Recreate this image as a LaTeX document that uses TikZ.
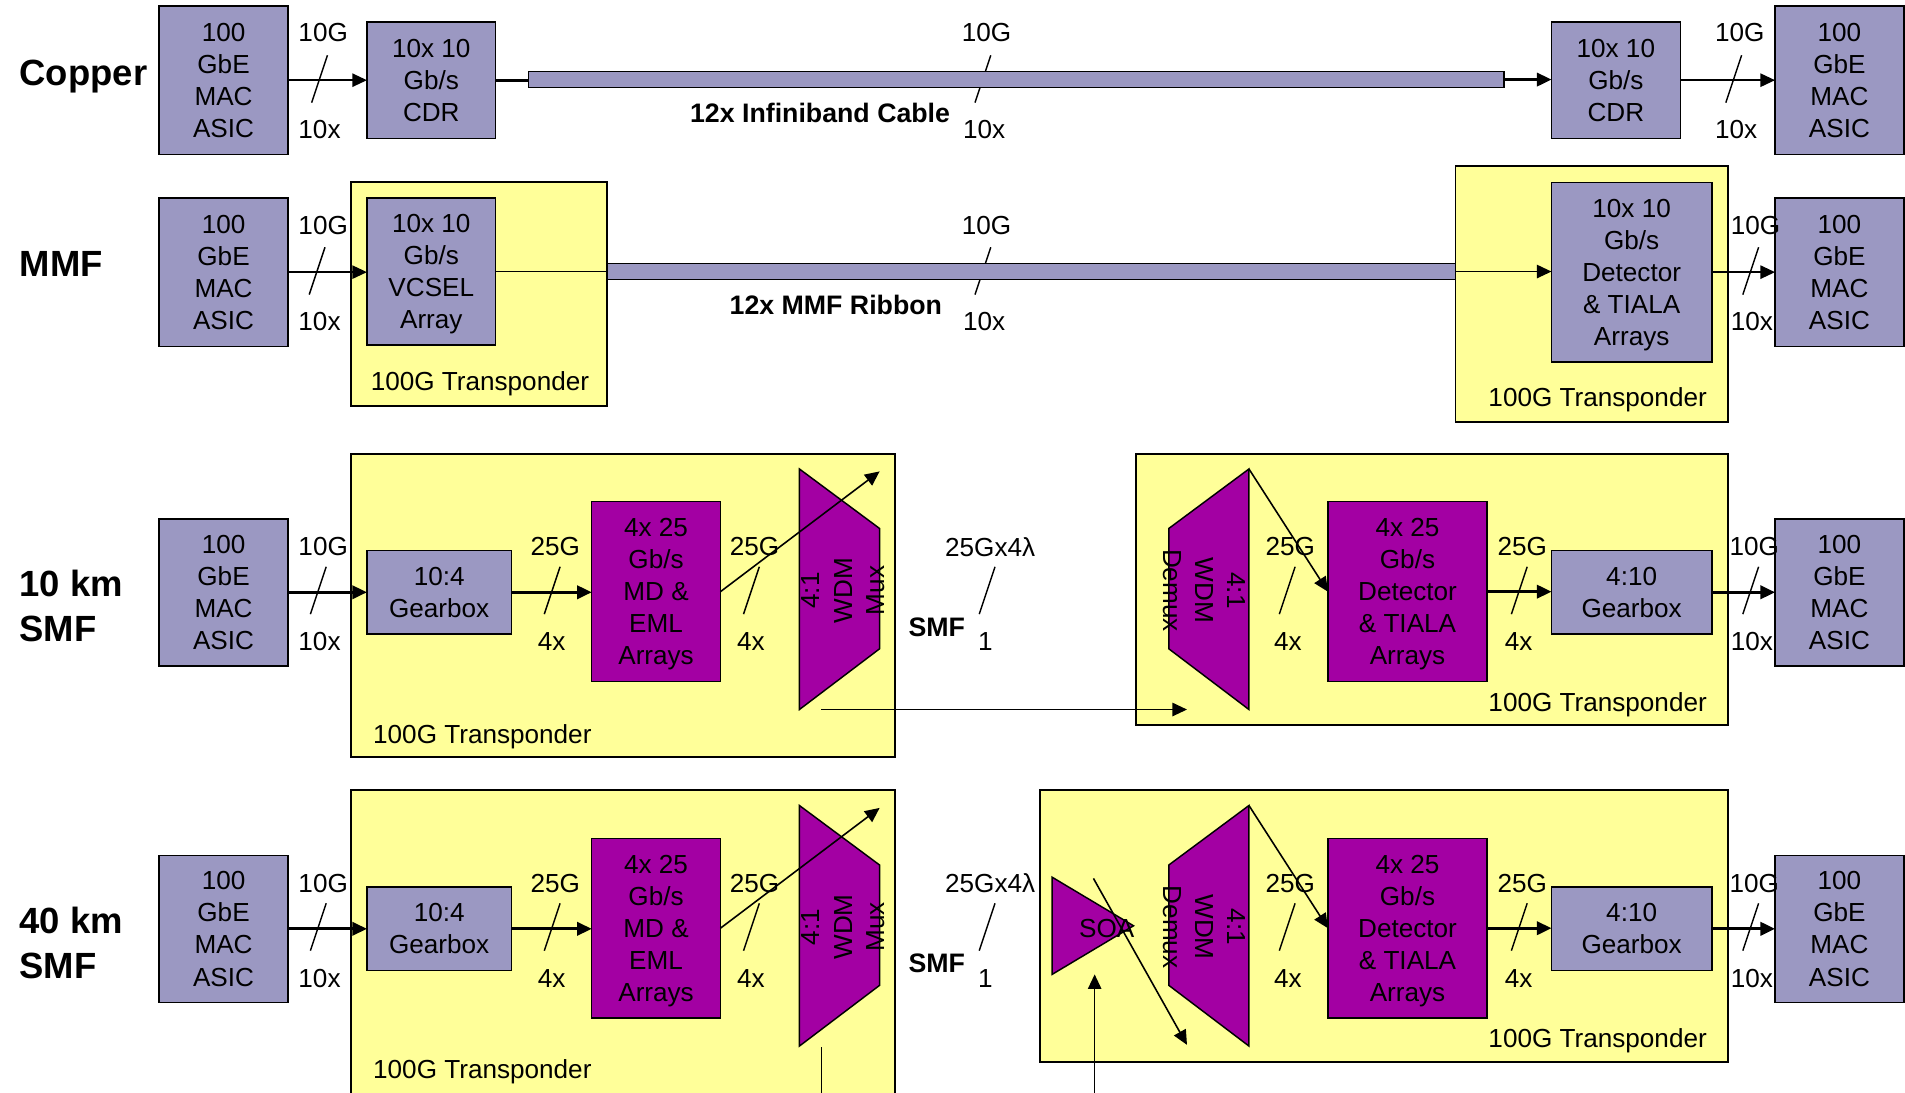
\documentclass[tikz,border=0pt]{standalone}
\usepackage{fontspec}
\setmainfont{Liberation Sans}
\usetikzlibrary{arrows.meta}
\definecolor{lav}{RGB}{155,152,194}
\definecolor{yel}{RGB}{255,255,153}
\definecolor{mag}{RGB}{163,0,163}
\newcommand\fn{\fontsize{21.5}{26.4}\selectfont}
\newcommand\fbig{\fontsize{30}{37}\selectfont\bfseries}
\newcommand\fmid{\fontsize{22}{26}\selectfont\bfseries}
% box by corners: name, x1, y1, x2, y2, style, text
\newcommand\rbox[7]{\node[#6, minimum width={(#4)-(#2)}, minimum height={(#5)-(#3)}] (#1) at ({((#2)+(#4))/2},{((#3)+(#5))/2}) {#7};}
% slash mark centred at x,y
\newcommand\sls[2]{\draw[sl] ({#1+6.5},{#2-19.5}) -- ({#1-6.5},{#2+19.5});}
\tikzset{
  lavbox/.style={draw, line width=1.2pt, fill=lav, inner sep=0pt, outer sep=0pt, align=center, font=\fn, text depth=-2.5pt},
  magbox/.style={lavbox, fill=mag},
  yelbox/.style={draw, line width=1.6pt, fill=yel, inner sep=0pt, outer sep=0pt},
  cab/.style={draw, line width=1.2pt, fill=lav, inner sep=0pt, outer sep=0pt},
  lbl/.style={font=\fn, inner sep=0pt},
  rowlbl/.style={font=\fbig, inner sep=0pt, anchor=west, align=left},
  cablbl/.style={font=\fmid, inner sep=0pt},
  con/.style={line width=1.3pt, -{Triangle[length=12pt,width=11pt]}},
  conb/.style={line width=2.2pt, -{Triangle[length=12pt,width=11pt]}},
  ln/.style={line width=1pt},
  lnb/.style={line width=2.2pt},
  sl/.style={line width=1.2pt},
  magshape/.style={draw, line width=1.2pt, fill=mag},
}
\begin{document}
\begin{tikzpicture}[x=1pt,y=-1pt]
\useasboundingbox (0,0) rectangle (1568,899);
\clip (0,0) rectangle (1568,899);

% ---------------- Row labels
\node[rowlbl] (lcopper) at (16,63) {Copper};
\node[rowlbl] (lmmf) at (16,217) {MMF};
\node[rowlbl] (l10) at (16,499) {10 km\\SMF};
\node[rowlbl] (l40) at (16,776) {40 km\\SMF};

% ---------------- Row 1: Copper
\rbox{mac1l}{131}{5}{237}{127}{lavbox}{100\\GbE\\MAC\\ASIC}
\rbox{cdr1l}{302}{18}{408}{114}{lavbox}{10x 10\\Gb/s\\CDR}
\rbox{cdr1r}{1277}{18}{1383}{114}{lavbox}{10x 10\\Gb/s\\CDR}
\rbox{mac1r}{1461}{5}{1567}{127}{lavbox}{100\\GbE\\MAC\\ASIC}
\node[lbl] (t1a) at (266,27) {10G};
\node[lbl] (t1b) at (263,107) {10x};
\sls{263}{65}
\node[lbl] (t1c) at (812,27) {10G};
\node[lbl] (t1d) at (810,107) {10x};
\sls{809}{65}
\node[lbl] (t1e) at (1432,27) {10G};
\node[lbl] (t1f) at (1429,107) {10x};
\sls{1427}{65}
\rbox{cable1}{435}{59}{1238}{72}{cab}{}
\node[cablbl] (c1) at (675,93) {12x Infiniband Cable};
\draw[con] (mac1l.east) -- (mac1l.east -| cdr1l.west);
\draw[lnb] (cdr1l.east) -- (cdr1l.east -| cable1.west);
\draw[conb] (cable1.east) -- (cable1.east -| cdr1r.west);
\draw[con] (cdr1r.east) -- (cdr1r.east -| mac1r.west);

% ---------------- Row 2: MMF
\rbox{ytl2}{289}{150}{500}{334}{yelbox}{}
\rbox{ytr2}{1198}{137}{1422}{347}{yelbox}{}
\node[lbl] (tr2a) at (395,316) {100G Transponder};
\node[lbl] (tr2b) at (1315,329) {100G Transponder};
\rbox{mac2l}{131}{163}{237}{285}{lavbox}{100\\GbE\\MAC\\ASIC}
\rbox{vcsel}{302}{163}{408}{284}{lavbox}{10x 10\\Gb/s\\VCSEL\\Array}
\rbox{det2}{1277}{150}{1409}{298}{lavbox}{10x 10\\Gb/s\\Detector\\\& TIALA\\Arrays}
\rbox{mac2r}{1461}{163}{1567}{285}{lavbox}{100\\GbE\\MAC\\ASIC}
\node[lbl] (t2a) at (266,186) {10G};
\node[lbl] (t2b) at (263,265) {10x};
\sls{261}{223}
\node[lbl] (t2c) at (812,186) {10G};
\node[lbl] (t2d) at (810,265) {10x};
\sls{809}{223}
\node[lbl] (t2e) at (1445,186) {10G};
\node[lbl] (t2f) at (1442,265) {10x};
\sls{1441}{223}
\rbox{ribbon}{500}{217}{1198}{230}{cab}{}
\node[cablbl] (c2) at (688,251) {12x MMF Ribbon};
\draw[con] (mac2l.east) -- (mac2l.east -| vcsel.west);
\draw[ln] (vcsel.east) -- (vcsel.east -| ribbon.west);
\draw[con] (ribbon.east) -- (ribbon.east -| det2.west);
\draw[con] (det2.east) -- (det2.east -| mac2r.west);

% ---------------- Row 3: 10 km SMF
\rbox{yl3}{289}{374}{737}{623}{yelbox}{}
\rbox{yr3}{935}{374}{1422}{597}{yelbox}{}
\node[lbl] (tr3a) at (397,606) {100G Transponder};
\node[lbl] (tr3b) at (1315,580) {100G Transponder};
\rbox{mac3l}{131}{427}{237}{548}{lavbox}{100\\GbE\\MAC\\ASIC}
\rbox{gb3l}{302}{453}{421}{522}{lavbox}{10:4\\Gearbox}
\rbox{md3}{487}{413}{593}{561}{magbox}{4x 25\\Gb/s\\MD \&\\EML\\Arrays}
\coordinate (mx3a) at (658,386);
\coordinate (mx3b) at (724,435);
\coordinate (mx3c) at (724,534);
\coordinate (mx3d) at (658,584);
\draw[magshape] (mx3a) -- (mx3b) -- (mx3c) -- (mx3d) -- cycle;
\node[lbl, rotate=90, align=center] (mx3t) at (694,486) {4:1\\WDM\\Mux};
\coordinate (dm3a) at (962,435);
\coordinate (dm3b) at (1028,386);
\coordinate (dm3c) at (1028,584);
\coordinate (dm3d) at (962,534);
\draw[magshape] (dm3a) -- (dm3b) -- (dm3c) -- (dm3d) -- cycle;
\node[lbl, rotate=-90, align=center] (dm3t) at (991.5,486) {4:1\\WDM\\Demux};
\rbox{det3}{1093}{413}{1224}{561}{magbox}{4x 25\\Gb/s\\Detector\\\& TIALA\\Arrays}
\rbox{gb3r}{1277}{453}{1409}{522}{lavbox}{4:10\\Gearbox}
\rbox{mac3r}{1461}{427}{1567}{548}{lavbox}{100\\GbE\\MAC\\ASIC}
\node[lbl] (t3a) at (266,450) {10G};
\node[lbl] (t3b) at (263,528) {10x};
\sls{262}{486}
\node[lbl] (t3c) at (457,450) {25G};
\node[lbl] (t3d) at (454,528) {4x};
\sls{454.5}{486}
\node[lbl] (t3e) at (621,450) {25G};
\node[lbl] (t3f) at (618,528) {4x};
\sls{618.5}{486}
\node[lbl] (t3g) at (815,450) {25Gx4λ};
\node[cablbl] (t3h) at (771,516) {SMF};
\node[lbl] (t3i) at (811,528) {1};
\sls{812.5}{486}
\node[lbl] (t3j) at (1062,450) {25G};
\node[lbl] (t3k) at (1060,528) {4x};
\sls{1059.5}{486}
\node[lbl] (t3l) at (1253,450) {25G};
\node[lbl] (t3m) at (1250,528) {4x};
\sls{1250.5}{486}
\node[lbl] (t3n) at (1444,450) {10G};
\node[lbl] (t3o) at (1442,528) {10x};
\sls{1441}{486}
\coordinate (mx3tip) at (724,388);
\coordinate (mx3out) at (676,584);
\coordinate (dm3in) at (977,584);
\draw[conb] (mac3l.east) -- (mac3l.east -| gb3l.west);
\draw[conb] (gb3l.east) -- (gb3l.east -| md3.west);
\draw[con] (md3.east) -- (mx3tip);
\draw[con] (mx3out) -- (dm3in);
\draw[con] (dm3b) -- (det3.west);
\draw[conb] (det3.east) -- (det3.east -| gb3r.west);
\draw[conb] (gb3r.east) -- (gb3r.east -| mac3r.west);

% ---------------- Row 4: 40 km SMF
\rbox{yl4}{289}{650}{737}{915}{yelbox}{}
\rbox{yr4}{856}{650}{1422}{874}{yelbox}{}
\node[lbl] (tr4a) at (397,882) {100G Transponder};
\node[lbl] (tr4b) at (1315,857) {100G Transponder};
\rbox{mac4l}{131}{704}{237}{825}{lavbox}{100\\GbE\\MAC\\ASIC}
\rbox{gb4l}{302}{730}{421}{799}{lavbox}{10:4\\Gearbox}
\rbox{md4}{487}{690}{593}{838}{magbox}{4x 25\\Gb/s\\MD \&\\EML\\Arrays}
\coordinate (mx4a) at (658,663);
\coordinate (mx4b) at (724,712);
\coordinate (mx4c) at (724,811);
\coordinate (mx4d) at (658,861);
\draw[magshape] (mx4a) -- (mx4b) -- (mx4c) -- (mx4d) -- cycle;
\node[lbl, rotate=90, align=center] (mx4t) at (694,763) {4:1\\WDM\\Mux};
\coordinate (so1) at (866,722);
\coordinate (so2) at (933,762);
\coordinate (so3) at (866,802);
\draw[magshape] (so1) -- (so2) -- (so3) -- cycle;
\node[lbl] (soat) at (911,764) {SOA};
\coordinate (dm4a) at (962,712);
\coordinate (dm4b) at (1028,663);
\coordinate (dm4c) at (1028,861);
\coordinate (dm4d) at (962,811);
\draw[magshape] (dm4a) -- (dm4b) -- (dm4c) -- (dm4d) -- cycle;
\node[lbl, rotate=-90, align=center] (dm4t) at (991.5,763) {4:1\\WDM\\Demux};
\rbox{det4}{1093}{690}{1224}{838}{magbox}{4x 25\\Gb/s\\Detector\\\& TIALA\\Arrays}
\rbox{gb4r}{1277}{730}{1409}{799}{lavbox}{4:10\\Gearbox}
\rbox{mac4r}{1461}{704}{1567}{825}{lavbox}{100\\GbE\\MAC\\ASIC}
\node[lbl] (t4a) at (266,727) {10G};
\node[lbl] (t4b) at (263,805) {10x};
\sls{262}{763}
\node[lbl] (t4c) at (457,727) {25G};
\node[lbl] (t4d) at (454,805) {4x};
\sls{454.5}{763}
\node[lbl] (t4e) at (621,727) {25G};
\node[lbl] (t4f) at (618,805) {4x};
\sls{618.5}{763}
\node[lbl] (t4g) at (815,727) {25Gx4λ};
\node[cablbl] (t4h) at (771,793) {SMF};
\node[lbl] (t4i) at (811,805) {1};
\sls{812.5}{763}
\node[lbl] (t4j) at (1062,727) {25G};
\node[lbl] (t4k) at (1060,805) {4x};
\sls{1059.5}{763}
\node[lbl] (t4l) at (1253,727) {25G};
\node[lbl] (t4m) at (1250,805) {4x};
\sls{1250.5}{763}
\node[lbl] (t4n) at (1444,727) {10G};
\node[lbl] (t4o) at (1442,805) {10x};
\sls{1441}{763}
\coordinate (mx4tip) at (724,665);
\coordinate (mx4out) at (676,862);
\coordinate (mx4end) at (676,910);
\coordinate (soain) at (900,723);
\coordinate (soaout) at (977,860);
\coordinate (soafrom) at (901,910);
\coordinate (soato) at (901,802);
\draw[conb] (mac4l.east) -- (mac4l.east -| gb4l.west);
\draw[conb] (gb4l.east) -- (gb4l.east -| md4.west);
\draw[con] (md4.east) -- (mx4tip);
\draw[ln] (mx4out) -- (mx4end);
\draw[con] (soain) -- (soaout);
\draw[con] (soafrom) -- (soato);
\draw[con] (dm4b) -- (det4.west);
\draw[conb] (det4.east) -- (det4.east -| gb4r.west);
\draw[conb] (gb4r.east) -- (gb4r.east -| mac4r.west);
\end{tikzpicture}
\end{document}
